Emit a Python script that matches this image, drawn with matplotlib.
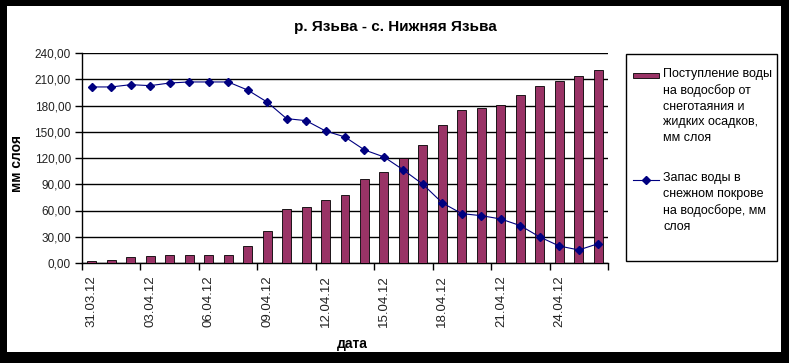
import matplotlib
matplotlib.use('Agg')
import matplotlib.pyplot as plt
from matplotlib.patches import Rectangle
from matplotlib.legend_handler import HandlerPatch, HandlerLine2D
import numpy as np

plt.rcParams['font.family'] = ['Liberation Sans', 'DejaVu Sans']

title = 'р. Язьва - с. Нижняя Язьва'
dates = ['31.03.12', '01.04.12', '02.04.12', '03.04.12', '04.04.12', '05.04.12',
         '06.04.12', '07.04.12', '08.04.12', '09.04.12', '10.04.12', '11.04.12',
         '12.04.12', '13.04.12', '14.04.12', '15.04.12', '16.04.12', '17.04.12',
         '18.04.12', '19.04.12', '20.04.12', '21.04.12', '22.04.12', '23.04.12',
         '24.04.12', '25.04.12', '26.04.12']
inflow = [2.7, 3.8, 6.9, 8.0, 9.1, 9.1, 9.1, 9.1, 19.4, 36.6, 61.7, 64.0, 72.0,
          77.7, 96.0, 104.0, 120.0, 134.9, 157.7, 174.9, 177.2, 180.6, 192.0,
          202.3, 208.0, 213.7, 220.6]
snow = [201.2, 201.2, 203.8, 202.7, 205.7, 206.9, 206.9, 206.9, 197.7, 184.0,
        165.0, 162.7, 150.9, 144.0, 129.2, 121.2, 106.3, 89.9, 68.6, 56.4, 54.1,
        50.3, 42.7, 29.7, 19.4, 14.9, 22.1]
label_inflow = 'Поступление воды\nна водосбор от\nснеготаяния и\nжидких осадков,\nмм слоя'
label_snow = 'Запас воды в\nснежном покрове\nна водосборе, мм\nслоя'
yticks = [0, 30, 60, 90, 120, 150, 180, 210, 240]

W, H = 789, 363
fig = plt.figure(figsize=(W / 100, H / 100), dpi=100, facecolor='black')
fig.patches.append(Rectangle((7 / W, 11 / H), 774 / W, 346 / H, transform=fig.transFigure,
                             facecolor='white', edgecolor='none', zorder=-10))

ax = fig.add_axes([82 / W, 1 - 263 / H, 526 / W, 210 / H])
ax.set_zorder(2)
ax.set_facecolor('none')
x = np.arange(len(dates))
bars = ax.bar(x, inflow, width=0.46, color='#993366', edgecolor='black', linewidth=0.6, zorder=3)
line, = ax.plot(x, snow, color='#000080', lw=0.8, marker='D', ms=3.6, zorder=4)

ax.set_xlim(-0.5, len(dates) - 0.5)
ax.set_ylim(yticks[0], yticks[-1])
ax.set_yticks(yticks)
ax.set_yticklabels([f'{v:.2f}'.replace('.', ',') for v in yticks])
ax.grid(axis='y', color='black', lw=1, zorder=1)
ax.set_axisbelow(True)

ax.set_xticks(np.arange(-0.5, len(dates), 3))
ax.set_xticklabels([])
ax.set_xticks(x[::3], minor=True)
ax.set_xticklabels(dates[::3], minor=True, rotation=90, fontsize=9.5, color='#222222')
ax.tick_params(axis='x', which='major', direction='out', length=5, width=1, color='black')
ax.tick_params(axis='x', which='minor', length=0, pad=9)
ax.tick_params(axis='y', direction='out', length=5, width=1, color='black', labelsize=8.5,
               pad=3, labelcolor='#222222')
for s in ['top', 'right']:
    ax.spines[s].set_visible(False)
for s in ['left', 'bottom']:
    ax.spines[s].set_color('black')
    ax.spines[s].set_linewidth(1)

fig.text(395 / W, 1 - 27 / H, title, ha='center', va='center', fontsize=11, fontweight='bold')
fig.text(17 / W, 1 - 163 / H, 'мм слоя', ha='center', va='center', rotation=90,
         fontsize=10, fontweight='bold')
fig.text(352 / W, 1 - 344 / H, 'дата', ha='center', va='center', fontsize=10, fontweight='bold')

# legend frame
fig.patches.append(Rectangle((626 / W, 1 - 261 / H), 151 / W, 207 / H, transform=fig.transFigure,
                             facecolor='white', edgecolor='black', lw=1, zorder=1))

LS = 1.4
FS = 9


class TopPatch(HandlerPatch):
    def __init__(self, shift, **kw):
        super().__init__(**kw)
        self.shift = shift

    def create_artists(self, legend, orig_handle, xdescent, ydescent, width, height, fontsize, trans):
        h2 = height * 0.6
        yd = ydescent - (height - h2) / 2 - self.shift
        return super().create_artists(legend, orig_handle, xdescent, yd, width, h2, fontsize, trans)


class TopLine(HandlerLine2D):
    def __init__(self, shift, **kw):
        super().__init__(**kw)
        self.shift = shift

    def create_artists(self, legend, orig_handle, xdescent, ydescent, width, height, fontsize, trans):
        return super().create_artists(legend, orig_handle, xdescent, ydescent - 2 * self.shift,
                                      width, height, fontsize, trans)


step = (0.73 * LS + 0.21) * FS
leg = fig.legend(handles=[bars.patches[0], line], labels=[label_inflow, label_snow],
                 loc='upper left', bbox_to_anchor=(633 / W, 1 - 68 / H), frameon=False,
                 fontsize=FS, handlelength=2.1, handletextpad=0.3, labelspacing=2.3,
                 borderpad=0, borderaxespad=0,
                 handler_map={bars.patches[0]: TopPatch(2 * step),
                              line: TopLine(1.5 * step)})
leg.set_zorder(5)
for t in leg.get_texts():
    t.set_linespacing(LS)
    t.set_color('black')

fig.savefig('out.png', dpi=100, facecolor='black')
